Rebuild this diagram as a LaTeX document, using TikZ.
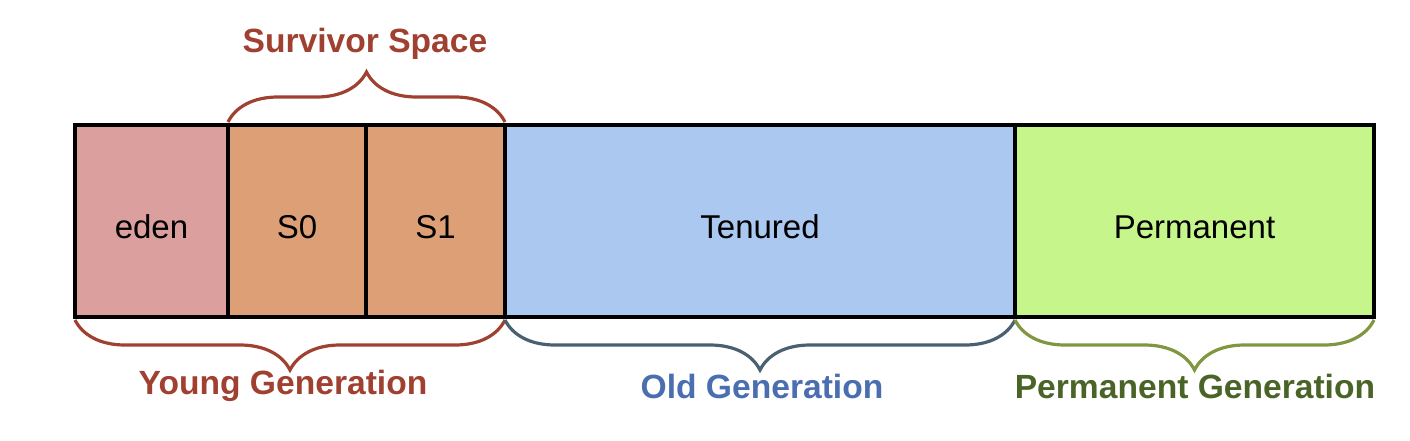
\documentclass[tikz,border=0pt]{standalone}
\usepackage{fontspec}
\setmainfont{Liberation Sans}
\usepackage{xcolor}
\usepackage{tikz}
\usetikzlibrary{decorations.pathreplacing}

\definecolor{edenfill}{RGB}{219,160,158}
\definecolor{survfill}{RGB}{221,160,118}
\definecolor{oldfill}{RGB}{170,200,240}
\definecolor{permfill}{RGB}{198,245,140}
\definecolor{youngcol}{RGB}{160,64,48}
\definecolor{oldbrace}{RGB}{74,96,112}
\definecolor{oldtext}{RGB}{74,110,176}
\definecolor{permbrace}{RGB}{128,150,64}
\definecolor{permtext}{RGB}{74,100,40}

\begin{document}
\begin{tikzpicture}[x=0.5pt, y=-0.5pt,
  area/.style={draw=black, line width=2pt, inner sep=0pt, outer sep=0pt,
    minimum height=96pt, text height=17.5pt, text depth=0pt,
    font=\fontsize{16.5}{18}\selectfont},
  gen/.style={font=\bfseries\fontsize{16.8}{18}\selectfont},
  brace/.style={decorate, line width=1.6pt,
    decoration={brace, amplitude=25pt, raise=1.5pt}}]
\useasboundingbox (0,0) rectangle (1410,440);
% heap areas
\node[area, fill=edenfill, minimum width=76.5pt] (eden) at (151.5,221) {eden};
\node[area, fill=survfill, minimum width=69pt] (s0) at (297,221) {S0};
\node[area, fill=survfill, minimum width=69.5pt] (s1) at (435.5,221) {S1};
\node[area, fill=oldfill, minimum width=255pt] (tenured) at (760,221) {Tenured};
\node[area, fill=permfill, minimum width=179.5pt] (perm) at (1194.5,221) {Permanent};
% braces
\draw[brace, youngcol] (s0.north west) -- (s1.north east);
\node[gen, youngcol] (survivor) at (365,44) {Survivor Space};
\draw[brace, youngcol, decoration={mirror}] (eden.south west) -- (s1.south east);
\node[gen, youngcol] (young) at (283,386) {Young Generation};
\draw[brace, oldbrace, decoration={mirror}] (tenured.south west) -- (tenured.south east);
\node[gen, oldtext] (old) at (762,386) {Old Generation};
\draw[brace, permbrace, decoration={mirror}] (perm.south west) -- (perm.south east);
\node[gen, permtext] (permgen) at (1195,386) {Permanent Generation};
\end{tikzpicture}
\end{document}
